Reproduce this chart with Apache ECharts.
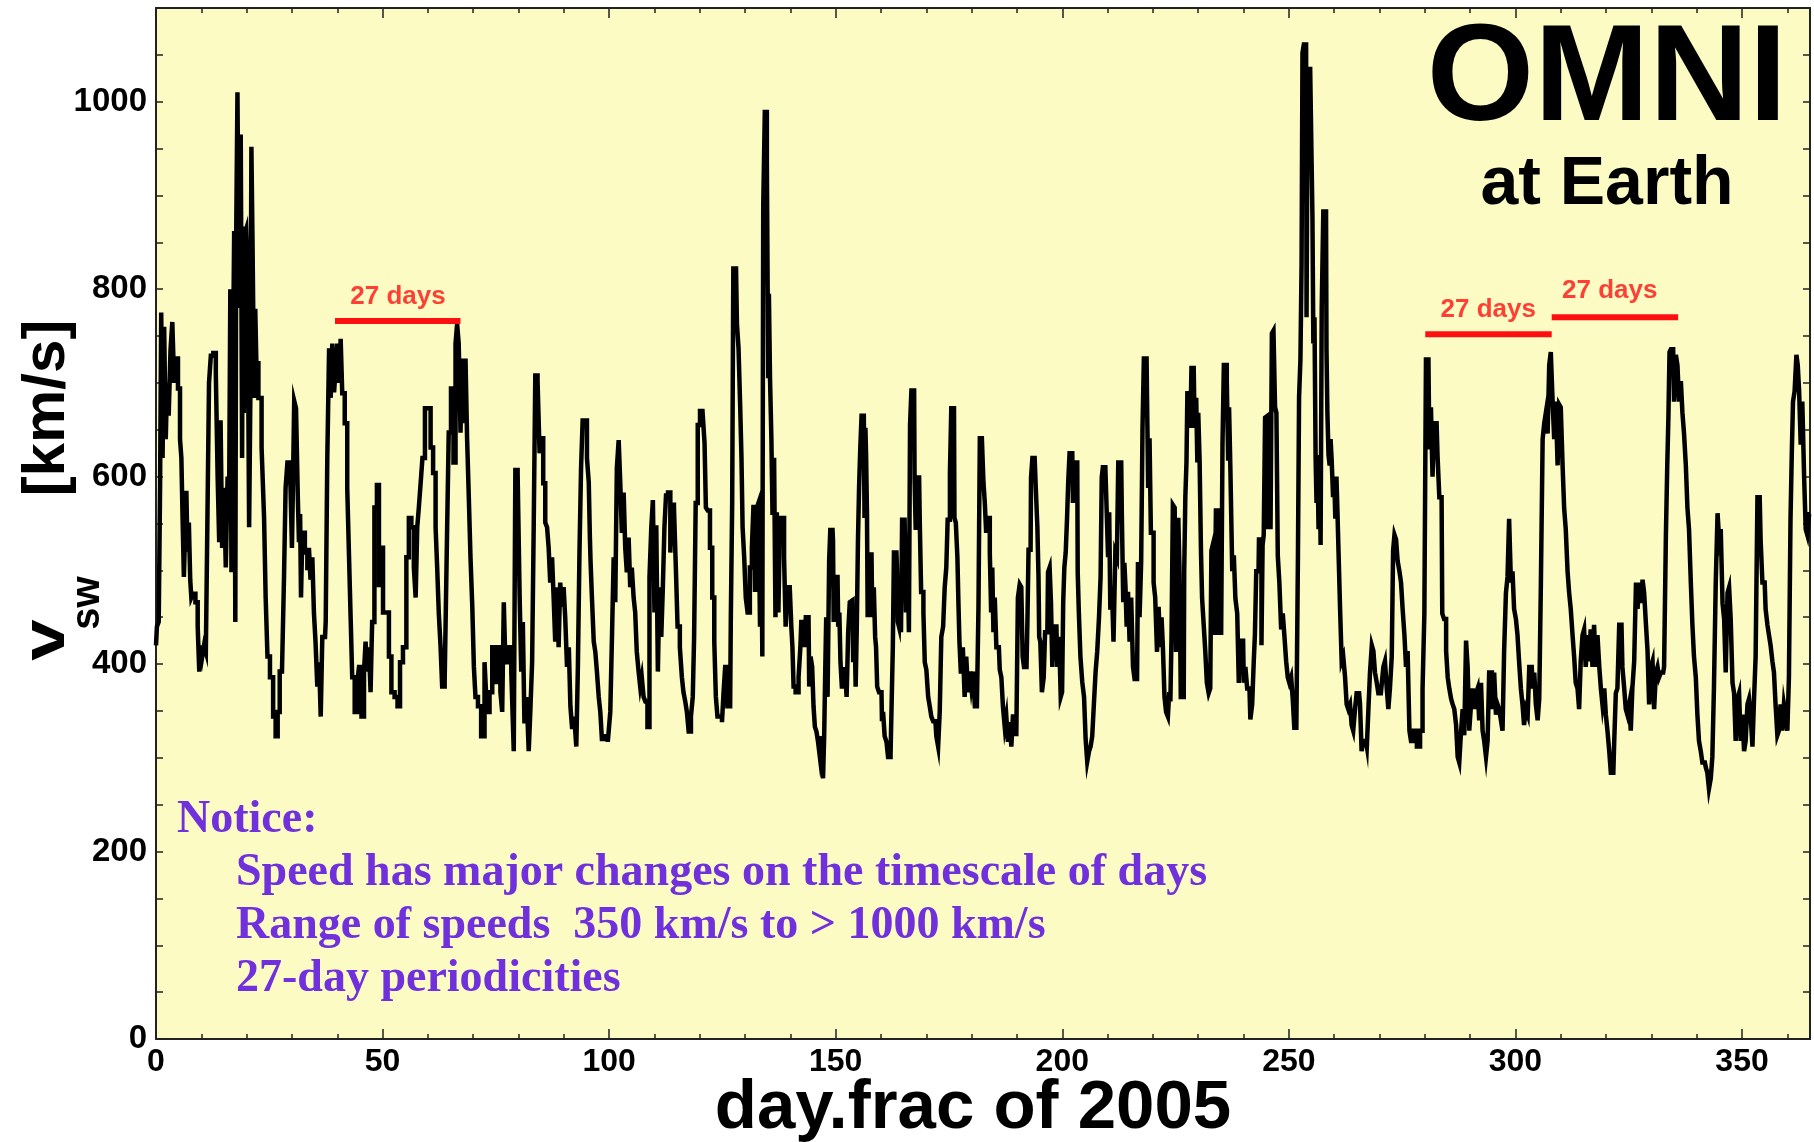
<!DOCTYPE html>
<html><head><meta charset="utf-8">
<script src="https://cdn.jsdelivr.net/npm/echarts@6/dist/echarts.min.js"></script>
<style>html,body{margin:0;padding:0;background:#fff}#c{width:1814px;height:1142px}</style>
</head><body><div id="c"></div>
<script>
// Solar wind speed (km/s) vs day.frac of 2005 as [day, speed] vertices
const seg1 = [[0,420],[0.4,440],[0.8,445],[1.0,590],[1.3,775],[1.6,620],[2.0,760],[2.3,640],[2.6,700],[3.0,665],[3.4,735],[3.8,765],[4.2,700],[4.6,726],[5.1,694],[5.5,640],[5.7,620],[6.0,559],[6.3,493],[6.6,545],[6.8,585],[7.1,520],[7.4,551],[7.7,490],[7.9,471],[8.4,475],[9.0,466],[9.4,440],[9.7,392],[10.0,420],[10.4,408],[10.8,420],[11.2,413],[11.5,556],[11.9,700],[12.3,729],[13.0,732],[13.4,710],[13.8,600],[14.1,530],[14.4,660],[14.8,524],[15.2,588],[15.6,503],[16.0,600],[16.3,588],[16.5,800],[16.8,498],[17.1,700],[17.4,862],[17.6,445],[17.8,860],[18.15,1010],[18.5,780],[18.9,965],[19.1,620],[19.25,867],[19.5,668],[19.8,860],[20.0,864],[20.4,816],[20.7,546],[21.0,700],[21.1,952],[21.5,851],[21.8,684],[22.0,779],[22.3,721],[22.9,684],[23.7,631],[24.0,556],[24.4,471],[24.8,408],[25.5,386],[26.2,344],[26.6,323],[27.1,349],[27.5,392],[28.1,394],[28.4,493],[28.8,588],[29.2,615],[29.9,615],[30.1,524],[30.4,600],[30.6,681],[31.2,673],[31.4,577],[31.7,530],[31.9,560],[32.1,471],[32.5,540],[33.2,519],[33.6,500],[33.9,524],[34.3,490],[34.7,514],[35.0,455],[35.4,424],[35.8,376],[36.2,402],[36.5,344],[36.9,429],[37.3,429],[37.6,445],[38.0,620],[38.4,737],[38.7,684],[39.1,742],[39.5,690],[39.8,716],[40.2,742],[40.6,700],[40.9,747],[41.3,689],[42.0,657],[42.4,588],[42.8,514],[43.1,450],[43.5,386],[44.2,349],[44.6,380]];
const seg2 = [[45.0,397],[45.7,344],[46.1,392],[46.4,424],[46.8,392],[47.2,418],[47.5,370],[47.9,445],[48.5,567],[49.0,591],[49.4,482],[49.7,524],[50.5,455],[51.2,455],[51.6,408],[52.3,370],[53.0,365],[53.6,355],[54.1,402],[54.9,418],[55.6,514],[56.0,556],[56.7,546],[57.1,503],[57.5,471],[57.8,546],[58.2,567],[58.6,593],[59.0,620],[59.7,673],[60.4,673],[60.8,631],[61.5,604],[61.9,546],[62.2,503],[62.6,455],[63.0,418],[63.3,376],[64.1,381],[64.4,546],[64.8,647],[65.4,694],[65.9,615],[66.3,742],[66.6,763],[67.0,742],[67.4,647],[67.7,726],[68.1,657],[68.5,726],[68.8,641],[69.2,583],[69.6,514],[70.0,461],[70.3,397],[70.7,365],[71.4,355],[72.1,323],[72.9,402],[73.2,349],[74.0,370],[74.4,418],[75.1,381],[75.8,418],[76.2,370],[76.6,349],[76.9,466],[77.3,402],[78.0,418],[78.8,392],[79.1,307],[79.5,607],[80.1,604],[80.4,471],[80.8,392],[81.1,445],[81.5,339],[82.1,365],[82.4,307],[82.8,349],[83.2,402],[83.5,546],[83.9,708],[84.5,702],[84.8,625],[85.2,641],[85.7,593],[86.1,551],[86.5,546],[86.8,524],[87.2,487],[87.6,514],[87.9,471],[88.3,424],[88.7,482],[89.0,418],[89.4,487],[89.8,461],[90.1,482],[90.5,450],[90.9,397]];
const seg3 = [[91.3,418],[91.6,355],[92.0,333],[92.6,344],[92.9,312],[93.3,397],[93.6,519],[94.0,609],[94.3,660],[94.9,660],[95.3,620],[95.7,594],[95.8,535],[96.0,509],[96.4,471],[96.8,424],[97.1,413],[97.5,392],[97.9,365],[98.2,349],[98.6,320],[99.3,323],[100.1,317],[100.4,349],[100.8,424],[101.2,514],[101.5,466],[101.9,609],[102.3,639],[102.6,594],[103.0,540],[103.4,583],[103.7,524],[104.1,498],[104.5,535],[104.8,482],[105.2,503],[105.6,471],[105.9,455],[106.3,413],[106.7,392],[107.0,376],[107.4,386],[107.8,365],[108.2,360],[108.7,333],[109.1,493],[109.5,546],[109.8,575],[110.2,455],[110.6,548],[110.9,392],[111.3,482],[111.7,429],[112.0,482],[112.4,546],[112.7,580],[113.3,583],[113.7,519],[114.0,570],[114.6,567],[114.9,498],[115.3,440],[115.9,418],[116.2,386],[116.6,370],[117.0,360],[117.3,349],[117.8,328],[118.3,344],[118.6,365],[118.9,429],[119.3,572],[119.8,655],[120.3,670],[120.9,670],[121.2,636],[121.5,567],[122.0,564],[122.5,524],[123.0,471],[123.4,424],[123.7,365],[124.1,344],[124.7,344],[125.1,338],[125.4,370],[125.8,397],[126.4,355],[126.7,355],[127.0,450],[127.3,572],[127.5,822],[128.0,822],[128.4,763],[128.7,737],[129.1,678],[129.3,620],[129.6,546],[130.0,514],[130.3,471],[130.8,455],[131.3,503],[131.7,524],[132.0,570],[132.4,477],[132.8,567],[133.1,572],[133.5,440],[133.7,546],[133.9,408],[134.1,888],[134.6,989],[135.0,936],[135.2,705],[135.3,795],[135.7,705],[135.9,641],[136.2,559],[136.6,620],[136.8,450],[137.2,562]];
const seg4 = [[137.5,455],[137.9,556],[138.4,556],[138.8,514],[139.1,440],[139.6,482],[140.1,482],[140.3,440],[140.6,418],[140.8,376],[141.5,370],[142.1,386],[142.3,418],[142.5,445],[143.0,445],[143.2,418],[143.6,450],[144.0,450],[144.3,376],[144.6,408],[145.0,397],[145.2,355],[145.6,333],[145.9,328],[146.3,317],[146.7,301],[147.1,323],[147.3,278],[147.6,323],[147.8,397],[148.0,450],[148.4,365],[148.7,511],[148.9,543],[149.3,543],[149.5,532],[149.6,445],[149.8,493],[150.4,493],[150.7,440],[150.9,455],[151.2,402],[151.5,376],[151.8,376],[152.2,397],[152.6,365],[152.9,434],[153.3,466],[153.7,468],[154.0,402],[154.3,440],[154.5,376],[154.8,440],[155.0,530],[155.3,588],[155.5,628],[155.9,665],[156.2,665],[156.5,556],[156.6,652],[156.8,623],[157.0,559],[157.1,450],[157.5,517],[157.9,517],[158.2,450],[158.6,482],[158.8,429],[159.0,418],[159.3,376],[159.8,370],[160.1,370],[160.3,339],[160.6,349],[161.0,323],[161.4,317],[161.7,301],[162.5,304],[162.7,418],[163.0,519],[163.4,519],[163.6,503],[163.8,445],[164.1,440],[164.3,482],[164.5,434],[164.8,554],[165.2,554],[165.4,530],[165.6,455],[166.0,530],[166.3,434],[166.5,655],[166.9,692],[167.3,692],[167.5,599],[167.8,543],[168.0,599],[168.4,599],[168.7,551],[169.0,477],[169.2,477],[169.5,455],[169.8,402],[170.2,394],[170.6,365],[170.9,355],[171.3,344],[171.7,339],[172.0,339],[172.4,323],[172.8,312],[173.1,349],[173.5,429],[173.9,440],[174.2,482],[174.6,503],[174.8,554],[175.1,554],[175.3,604],[175.7,673],[176.1,673],[176.3,556],[176.7,551],[177.0,514],[177.2,461],[177.4,424],[177.8,392],[178.3,418],[178.6,365],[179.0,408],[179.4,370],[179.7,392],[180.1,376],[180.5,392],[180.9,355],[181.4,355],[181.6,461],[182.0,641],[182.5,641],[182.7,594],[183.1,572],[183.3,540],[183.6,556]];
const seg5 = [[183.8,556],[184.2,519],[184.4,455],[184.7,503],[184.9,434],[185.3,471],[185.6,418],[186.0,418],[186.4,394],[186.7,386],[187.1,355],[187.5,333],[187.8,344],[188.2,317],[188.6,338],[188.9,312],[189.3,344],[189.7,344],[190.0,323],[190.4,471],[190.8,485],[191.1,482],[191.4,408],[191.7,397],[192.1,397],[192.5,445],[192.6,522],[193.0,522],[193.2,599],[193.6,620],[193.9,620],[194.3,594],[194.7,546],[194.8,493],[195.0,429],[195.3,424],[195.7,370],[196.1,386],[196.3,434],[196.7,434],[197.0,498],[197.4,503],[197.6,466],[198.0,397],[198.3,440],[198.7,440],[199.1,397],[199.5,429],[199.8,365],[200.1,370],[200.3,466],[200.6,503],[200.9,519],[201.2,556],[201.4,594],[201.8,625],[202.2,625],[202.5,572],[202.9,615],[203.3,615],[203.5,498],[203.8,455],[204.2,408],[204.6,381],[205.0,365],[205.3,320],[205.7,296],[206.1,307],[206.4,312],[206.8,323],[207.2,360],[207.5,392],[207.9,413],[208.3,450],[208.6,493],[208.8,599],[209.1,610],[209.5,610],[209.9,578],[210.3,514],[210.4,562],[210.8,458],[211.1,482],[211.5,424],[211.9,519],[212.2,514],[212.5,615],[213.0,615],[213.3,556],[213.6,466],[213.8,508],[214.1,482],[214.3,440],[214.7,477],[215.0,424],[215.4,471],[215.8,397],[216.1,384],[216.5,384],[216.9,509],[217.2,450],[217.6,509],[217.8,652],[218.2,726],[218.6,726],[218.8,684],[219.1,588],[219.4,641],[219.7,540],[220.0,540],[220.3,487],[220.7,471],[221.1,413],[221.4,461],[221.8,418],[222.0,450],[222.4,418],[222.7,365],[223.1,349],[223.5,344],[223.7,370],[224.0,360],[224.2,429],[224.6,570],[225.0,567],[225.2,413],[225.5,429],[225.7,556],[226.0,503],[226.3,365],[226.8,365],[227.0,498],[227.3,578],[227.5,615],[227.7,689],[228.1,689],[228.4,652],[228.6,716],[229.0,716],[229.4,652],[229.7,684],[229.9,615]];
const seg6 = [[230.1,668],[230.5,617],[230.7,521],[231.0,470],[231.4,442],[231.7,414],[232.1,380],[232.5,369],[232.8,374],[233.0,521],[233.4,527],[233.8,431],[234.0,564],[234.4,564],[234.7,431],[234.9,493],[235.2,431],[235.5,634],[235.8,719],[236.1,719],[236.5,702],[236.7,617],[236.9,674],[237.3,606],[237.7,499],[238.0,516],[238.4,470],[238.8,454],[239.1,380],[239.5,425],[239.9,425],[240.2,380],[240.6,397],[241.0,374],[241.3,374],[241.7,341],[242.1,357],[242.4,403],[242.6,431],[243.0,499],[243.3,499],[243.5,533],[243.8,533],[244.1,420],[244.3,527],[244.6,538],[244.9,663],[245.3,665],[245.5,544],[245.8,600],[246.1,544],[246.4,753],[246.8,756],[247.1,674],[247.4,668],[247.7,516],[248.1,487],[248.5,437],[248.8,454],[249.2,431],[249.6,403],[249.9,386],[250.3,380],[250.7,386],[251.0,363],[251.4,332],[251.9,332],[252.1,516],[252.4,685],[252.7,725],[252.9,826],[253.1,1052],[253.5,1061],[253.8,1061],[254.0,770],[254.3,1035],[255.1,1035],[255.3,877],[255.5,742],[255.8,770],[256.0,620],[256.2,572],[256.4,623],[256.7,544],[256.9,623],[257.1,527],[257.4,781],[257.8,883],[258.2,883],[258.4,736],[258.6,668],[258.9,623],[259.1,612],[259.3,640],[259.6,617],[259.9,578],[260.1,600],[260.4,555],[260.6,600],[260.8,566],[261.1,521],[261.5,459],[261.8,403],[262.2,408],[262.6,386],[262.9,357],[263.3,352],[263.7,357],[264.0,335],[264.4,329],[264.8,352],[265.1,369],[265.5,369],[265.9,357],[266.2,307],[266.6,318],[267.0,318],[267.4,312],[267.7,352],[268.1,391],[268.5,420],[268.8,414],[269.2,391],[269.6,380],[269.9,369],[270.3,369],[270.7,369],[271.0,397],[271.4,403],[271.8,374],[272.1,352],[272.5,374],[272.9,408],[273.1,521],[273.5,538],[273.8,533],[274.2,510],[274.6,499],[274.9,487],[275.3,459],[275.7,431],[276.0,397]];
const seg7 = [[276.4,414],[276.8,329],[277.1,318],[277.9,329],[278.6,312],[279.3,329],[279.7,374],[280.1,454],[280.4,725],[280.8,725],[281.2,629],[281.5,674],[281.9,600],[282.3,657],[282.6,657],[283.0,623],[283.4,578],[283.7,578],[284.0,454],[284.5,448],[284.9,414],[285.2,386],[285.6,374],[286.0,363],[286.3,357],[286.7,352],[287.1,335],[287.4,301],[287.8,295],[288.2,329],[288.5,352],[288.9,324],[289.3,425],[289.6,397],[290.0,329],[290.4,357],[290.7,374],[291.1,352],[291.5,369],[291.8,374],[292.2,340],[292.6,380],[292.9,329],[293.3,318],[293.7,301],[294.0,318],[294.4,391],[294.8,391],[295.1,352],[295.5,391],[295.9,346],[296.2,357],[296.6,352],[297.0,340],[297.3,329],[297.7,414],[298.1,476],[298.4,493],[298.8,555],[299.2,487],[299.5,499],[299.9,459],[300.3,448],[300.6,431],[301.0,403],[301.4,374],[301.7,357],[302.1,335],[302.5,352],[302.9,346],[303.2,397],[303.6,397],[304.0,374],[304.3,391],[304.7,357],[305.1,340],[305.4,363],[305.8,482],[306.2,640],[306.5,657],[306.9,668],[307.3,646],[307.6,719],[308.0,733],[308.4,680],[308.7,640],[309.1,680],[309.5,612],[309.8,677],[310.2,674],[310.6,612],[310.9,566],[311.3,544],[311.7,499],[312.0,476],[312.4,459],[312.8,431],[313.1,408],[313.5,380],[313.9,374],[314.2,352],[314.6,403],[315.0,431],[315.3,437],[315.7,397],[316.1,431],[316.4,403],[316.8,437],[317.2,397],[317.5,442],[317.9,397]];
const seg8 = [[318.3,431],[318.7,397],[319.0,374],[319.4,357],[319.8,374],[320.1,346],[320.5,329],[320.9,307],[321.2,284],[321.6,284],[322.0,318],[322.3,369],[322.7,374],[323.1,442],[323.4,442],[323.8,397],[324.2,374],[324.5,352],[324.9,346],[325.3,357],[325.6,329],[326.0,374],[326.4,403],[326.8,487],[327.1,459],[327.5,487],[327.9,465],[328.2,490],[328.6,476],[329.0,442],[329.3,414],[329.7,357],[330.1,397],[330.4,403],[330.8,352],[331.2,391],[331.5,397],[331.9,386],[332.3,391],[332.6,391],[333.0,397],[333.4,538],[333.6,612],[333.9,663],[334.1,733],[334.5,736],[334.8,736],[335.2,680],[335.6,730],[335.9,719],[336.3,680],[336.7,702],[337.0,668],[337.4,646],[337.8,612],[338.1,567],[338.5,544],[338.9,487],[339.2,442],[339.6,408],[340.0,386],[340.3,346],[340.7,318],[341.1,307],[341.4,295],[341.8,295],[342.2,290],[342.5,284],[342.9,267],[343.3,278],[343.6,301],[344.0,374],[344.4,487],[344.8,561],[345.1,533],[345.5,544],[345.9,465],[346.2,448],[346.6,391],[347.0,476],[347.3,482],[347.7,448],[348.1,380],[348.4,369],[348.8,318],[349.2,363],[349.5,369],[349.9,318],[350.3,346],[350.6,307],[351.0,318],[351.4,357],[351.7,363],[352.1,346],[352.5,312],[352.8,363],[353.2,408],[353.6,578],[353.9,578],[354.3,533],[354.7,487],[355.0,487],[355.4,459],[355.8,442],[356.1,431],[356.5,420],[356.9,403],[357.2,391],[357.6,357],[358.0,324],[358.3,329],[358.7,357],[359.1,329],[359.4,357],[359.8,346],[360.2,329],[360.5,386],[360.9,555],[361.1,629],[361.4,680],[361.8,691],[362.2,730],[362.4,719],[362.8,691],[363.1,634],[363.5,680],[363.9,600],[364.2,544],[364.6,538],[365.0,560]];

// 27-day annotation bars [day, speed] and labels [day, speed, text]
const bar1 = [[39.5,766],[67.2,766]];
const bar2 = [[280.1,752],[308.0,752]];
const bar3 = [[308.0,770],[335.9,770]];
const barLabels = [[53.4,792,'27 days'],[294.0,778,'27 days'],[320.8,798,'27 days']];

const xTickMajor = 50, xTickMinor = 10;
const notice = ['Notice:', 'Speed has major changes on the timescale of days', 'Range of speeds  350 km/s to > 1000 km/s', '27-day periodicities'];

const speed = [].concat(seg1, seg2, seg3, seg4, seg5, seg6, seg7, seg8);

const SANS = '"Liberation Sans", Arial, Helvetica, sans-serif';
const SERIF = '"Liberation Serif", "Times New Roman", serif';
const AX = '#222';
const PURPLE = '#7030dc';
const RED = '#ff1010';

function xAx(pos, interval, major) {
  return {
    type: 'value', min: 0, max: 365, interval: interval, position: pos,
    axisLine: { show: major, onZero: false, lineStyle: { color: AX, width: 2 } },
    axisTick: { show: true, inside: true, length: major ? 10 : 5, lineStyle: { color: AX, width: 1.5 } },
    axisLabel: (major && pos === 'bottom') ? {
      show: true, color: '#000', fontFamily: SANS, fontWeight: 'bold', fontSize: 32, margin: 7,
      formatter: v => (v % 50 === 0 ? String(v) : '')
    } : { show: false },
    splitLine: { show: false }
  };
}
function yAx(pos) {
  return {
    type: 'value', min: 0, max: 1100, interval: 100, position: pos,
    axisLine: { show: true, onZero: false, lineStyle: { color: AX, width: 2 } },
    axisTick: { show: true, inside: true, length: 7, lineStyle: { color: AX, width: 1.5 } },
    minorTick: { show: true, splitNumber: 2, length: 7, lineStyle: { color: AX, width: 1.5 } },
    axisLabel: pos === 'left' ? {
      show: true, color: '#000', fontFamily: SANS, fontWeight: 'bold', fontSize: 33, margin: 9,
      formatter: v => (v % 200 === 0 ? String(v) : '')
    } : { show: false },
    splitLine: { show: false }
  };
}

function txt(x, y, text, size, weight, family, color, align, rot, sx) {
  return {
    type: 'text', x: x, y: y, rotation: rot || 0, scaleX: sx || 1, z: 100,
    style: {
      text: text, fontSize: size, fontWeight: weight, fontFamily: family, fill: color,
      align: align, verticalAlign: 'middle', textAlign: align, textVerticalAlign: 'middle'
    }
  };
}

const chart = echarts.init(document.getElementById('c'), null, { renderer: 'canvas' });
chart.setOption({
  animation: false,
  backgroundColor: '#ffffff',
  grid: { left: 156, right: 4, top: 8, bottom: 103, show: true, backgroundColor: '#fbfbc3', borderWidth: 0 },
  xAxis: [xAx('bottom', xTickMajor, true), xAx('bottom', xTickMinor, false), xAx('top', xTickMajor, true), xAx('top', xTickMinor, false)],
  yAxis: [yAx('left'), yAx('right')],
  series: [
    { type: 'line', data: speed, xAxisIndex: 0, yAxisIndex: 0, step: 'middle', showSymbol: false, symbol: 'none',
      lineStyle: { color: '#000', width: 4.5, join: 'miter' }, z: 3 },
    { type: 'line', data: bar1, symbol: 'none', lineStyle: { color: RED, width: 6 }, z: 4 },
    { type: 'line', data: bar2, symbol: 'none', lineStyle: { color: RED, width: 6 }, z: 4 },
    { type: 'line', data: bar3, symbol: 'none', lineStyle: { color: RED, width: 6 }, z: 4 },
    { type: 'scatter', data: barLabels, symbolSize: 1, itemStyle: { color: 'rgba(0,0,0,0)' }, z: 5,
      label: { show: true, position: 'inside', formatter: p => p.data[2], color: RED, fontFamily: SANS, fontWeight: 'bold', fontSize: 26 } }
  ],
  graphic: [
    txt(1607, 82, 'OMNI', 138, 'bold', SANS, '#000', 'center'),
    txt(1607, 185, 'at Earth', 68, 'bold', SANS, '#000', 'center'),
    txt(177, 820, notice[0], 46, 'bold', SERIF, PURPLE, 'left'),
    txt(236, 873, notice[1], 46, 'bold', SERIF, PURPLE, 'left'),
    txt(236, 926, notice[2], 46, 'bold', SERIF, PURPLE, 'left'),
    txt(236, 979, notice[3], 46, 'bold', SERIF, PURPLE, 'left'),
    txt(973, 1109, 'day.frac of 2005', 69, 'bold', SANS, '#000', 'center'),
    txt(47, 408, '[km/s]', 60, 'bold', SANS, '#000', 'center', Math.PI / 2),
    txt(47, 640, 'v', 62, 'bold', SANS, '#000', 'center', Math.PI / 2, 1.2),
    txt(88, 603, 'sw', 40, 'bold', SANS, '#000', 'center', Math.PI / 2)
  ]
});
</script>
</body></html>
